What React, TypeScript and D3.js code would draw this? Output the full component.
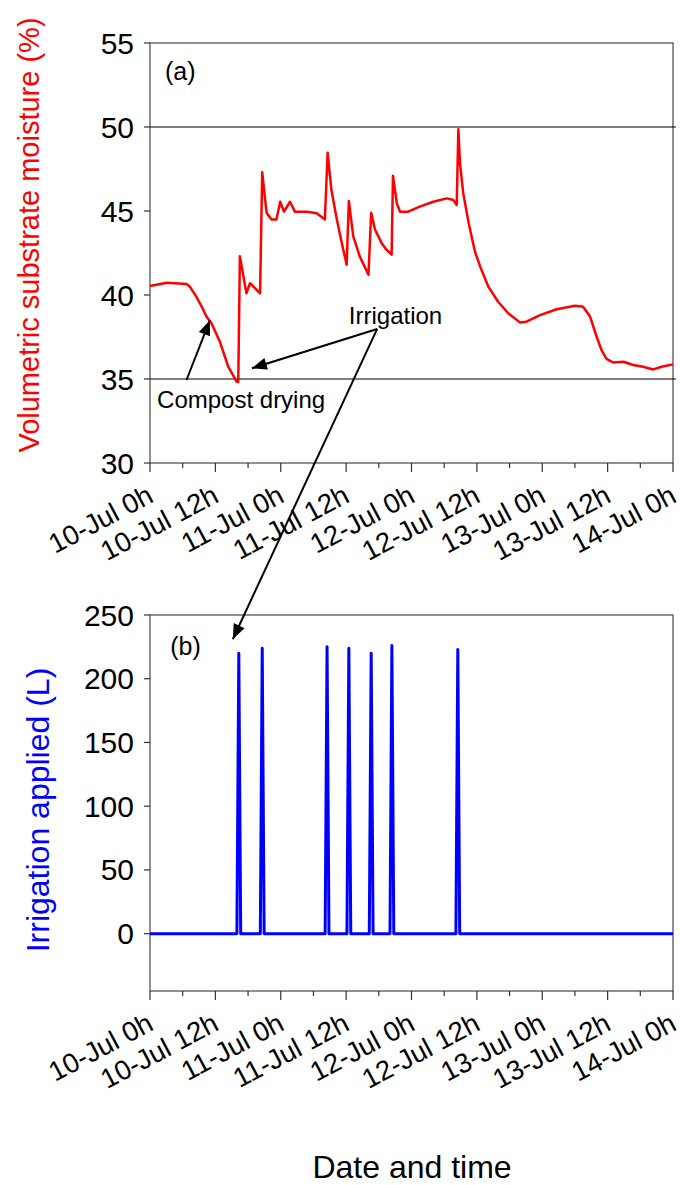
import React from "react";
import * as d3 from "d3";

// hours after 10-Jul 0h
const moistureHours = [
  0, 3.1, 6.7, 7.3, 8.5, 9.5, 10.4, 11.3, 12.85, 14.4, 15.9, 16.2, 16.5, 17.7, 18.35, 19.3, 20.2,
  20.6, 21.4, 22.3, 23.2, 23.9, 24.6, 25.7, 26.6, 28.8, 30.6, 32.1, 32.6, 33.3, 34.3, 35.2, 36.1,
  36.5, 37.3, 38.5, 40.1, 40.6, 41.3, 42.5, 43.4, 44.35, 44.6, 45.3, 45.9, 47.4, 49.5, 52, 54.5,
  55.7, 56.3, 56.6, 56.9, 57.5, 58.5, 59.65, 60.6, 62.1, 63.9, 65.8, 67.9, 69.1, 71.6, 74.65, 78,
  79.5, 80.8, 82, 82.9, 83.8, 85, 86.9, 88.7, 90.5, 92.4, 93.9, 96,
];
const moistureValues = [
  40.54, 40.73, 40.65, 40.5, 39.9, 39.3, 38.7, 38.3, 37.2, 35.7, 34.84, 34.84, 42.3, 40.1, 40.7,
  40.4, 40.1, 47.3, 44.9, 44.5, 44.5, 45.55, 44.96, 45.55, 44.96, 44.96, 44.87, 44.5, 48.47, 46.25,
  44.5, 43.1, 41.8, 45.6, 43.5, 42.3, 41.2, 44.9, 43.9, 43.1, 42.7, 42.4, 47.1, 45.46, 44.96,
  44.96, 45.26, 45.55, 45.75, 45.65, 45.36, 49.86, 47.84, 46.05, 44.27, 42.58, 41.7, 40.5, 39.6,
  38.9, 38.37, 38.41, 38.8, 39.15, 39.36, 39.3, 38.7, 37.5, 36.7, 36.2, 35.98, 36.03, 35.83,
  35.73, 35.57, 35.73, 35.87,
];

const irrigationHours = [16.3, 20.6, 32.5, 36.5, 40.6, 44.4, 56.5];
const irrigationLitres = [220, 224, 225, 224, 220, 226, 223];

const xTickHours = d3.range(0, 97, 6);
const xLabelHours = [0, 12, 24, 36, 48, 60, 72, 84, 96];
const xLabels = [
  "10-Jul 0h", "10-Jul 12h", "11-Jul 0h", "11-Jul 12h", "12-Jul 0h",
  "12-Jul 12h", "13-Jul 0h", "13-Jul 12h", "14-Jul 0h",
];
const moistureTicks = [30, 35, 40, 45, 50, 55];
const moistureRefLines = [35, 50];
const irrigationTicks = [0, 50, 100, 150, 200, 250];

const FONT = "Arial, 'Liberation Sans', sans-serif";
const left = 150;
const right = 673;

const x = d3.scaleLinear().domain([0, 96]).range([left, right]);
const yA = d3.scaleLinear().domain([30, 55]).range([463, 43]);
const yB = d3.scaleLinear().domain([-45, 250]).range([991, 615]);

// build irrigation series: zero baseline with a narrow spike per event
const halfWidth = 0.35;
const irrigationSeries: [number, number][] = [[0, 0]];
irrigationHours.forEach((h, i) => {
  irrigationSeries.push([h - halfWidth, 0], [h, irrigationLitres[i]], [h + halfWidth, 0]);
});
irrigationSeries.push([96, 0]);

const moistureSeries: [number, number][] = moistureHours.map((h, i) => [h, moistureValues[i]]);

function arrowHead(x1: number, y1: number, x2: number, y2: number, len = 15, w = 6) {
  const a = Math.atan2(y2 - y1, x2 - x1);
  const bx = x2 - len * Math.cos(a);
  const by = y2 - len * Math.sin(a);
  const px = -Math.sin(a) * w;
  const py = Math.cos(a) * w;
  return `${x2},${y2} ${bx + px},${by + py} ${bx - px},${by - py}`;
}

function XAxis({ y0 }: { y0: number }) {
  return (
    <g>
      {xTickHours.map((h) => (
        <line key={h} x1={x(h)} x2={x(h)} y1={y0} y2={y0 + (h % 12 === 0 ? 9 : 5)} stroke="#333" strokeWidth={1.2} />
      ))}
      {xLabelHours.map((h, i) => (
        <text
          key={h}
          transform={`translate(${x(h) + 5},${y0 + 38}) rotate(-28)`}
          textAnchor="end"
          fontSize={27.5}
          fontFamily={FONT}
          fill="#000"
        >
          {xLabels[i]}
        </text>
      ))}
    </g>
  );
}

function YAxis({ scale, ticks }: { scale: d3.ScaleLinear<number, number>; ticks: number[] }) {
  return (
    <g>
      {ticks.map((t) => (
        <g key={t}>
          <line x1={left - 6} x2={left} y1={scale(t)} y2={scale(t)} stroke="#333" strokeWidth={1.2} />
          <text
            x={left - 16}
            y={scale(t)}
            textAnchor="end"
            dominantBaseline="central"
            fontSize={30}
            fontFamily={FONT}
          >
            {t}
          </text>
        </g>
      ))}
    </g>
  );
}

export default function App() {
  const moistureLine = d3
    .line<[number, number]>()
    .x((d) => x(d[0]))
    .y((d) => yA(d[1]));
  const irrigationLine = d3
    .line<[number, number]>()
    .x((d) => x(d[0]))
    .y((d) => yB(d[1]));

  // annotation anchors in data units
  const dryFrom = [x(6.7), yA(34.94)];
  const dryTo = [x(11.0), yA(38.5)];
  const irrFrom = [x(41.7), yA(37.98)];
  const irrTo1 = [x(18.7), yA(35.64)];
  const irrTo2 = [x(15.2), yB(231)];

  return (
    <svg
      width={680}
      height={1185}
      style={{ position: "absolute", left: 0, top: 0, background: "#fff" }}
    >
      {/* panel (a) */}
      <rect x={left} y={yA(55)} width={right - left} height={yA(30) - yA(55)} fill="none" stroke="#555" strokeWidth={1.3} />
      {moistureRefLines.map((v) => (
        <line key={v} x1={left} x2={right + 3} y1={yA(v)} y2={yA(v)} stroke="#000" strokeWidth={1} />
      ))}
      <path d={moistureLine(moistureSeries) ?? ""} fill="none" stroke="#ff0000" strokeWidth={2.5} strokeLinejoin="round" />
      <YAxis scale={yA} ticks={moistureTicks} />
      <XAxis y0={yA(30)} />
      <text x={x(2.75)} y={yA(52.8)} fontSize={25} fontFamily={FONT}>(a)</text>
      <text x={x(36.5)} y={yA(38.3)} fontSize={24} fontFamily={FONT}>Irrigation</text>
      <text x={x(1.3)} y={yA(33.3)} fontSize={24} fontFamily={FONT}>Compost drying</text>

      {/* panel (b) */}
      <rect x={left} y={yB(250)} width={right - left} height={yB(-45) - yB(250)} fill="none" stroke="#555" strokeWidth={1.3} />
      <path d={irrigationLine(irrigationSeries) ?? ""} fill="none" stroke="#0000ff" strokeWidth={3} strokeLinejoin="round" />
      <YAxis scale={yB} ticks={irrigationTicks} />
      <XAxis y0={yB(-45)} />
      <text x={x(3.7)} y={yB(219)} fontSize={25} fontFamily={FONT}>(b)</text>

      {/* annotation arrows */}
      <g stroke="#000" strokeWidth={2}>
        <line x1={dryFrom[0]} y1={dryFrom[1]} x2={dryTo[0]} y2={dryTo[1]} />
        <line x1={irrFrom[0]} y1={irrFrom[1]} x2={irrTo1[0]} y2={irrTo1[1]} />
        <line x1={irrFrom[0]} y1={irrFrom[1]} x2={irrTo2[0]} y2={irrTo2[1]} />
      </g>
      <g fill="#000">
        <polygon points={arrowHead(dryFrom[0], dryFrom[1], dryTo[0], dryTo[1])} />
        <polygon points={arrowHead(irrFrom[0], irrFrom[1], irrTo1[0], irrTo1[1])} />
        <polygon points={arrowHead(irrFrom[0], irrFrom[1], irrTo2[0], irrTo2[1])} />
      </g>

      {/* axis titles */}
      <text
        transform="translate(29,235) rotate(-90)"
        textAnchor="middle"
        dominantBaseline="central"
        fontSize={29}
        fontFamily={FONT}
        fill="#ff0000"
      >
        Volumetric substrate moisture (%)
      </text>
      <text
        transform="translate(38,810) rotate(-90)"
        textAnchor="middle"
        dominantBaseline="central"
        fontSize={32}
        fontFamily={FONT}
        fill="#0000ff"
      >
        Irrigation applied (L)
      </text>
      <text x={412} y={1178} textAnchor="middle" fontSize={32} fontFamily={FONT}>
        Date and time
      </text>
    </svg>
  );
}
